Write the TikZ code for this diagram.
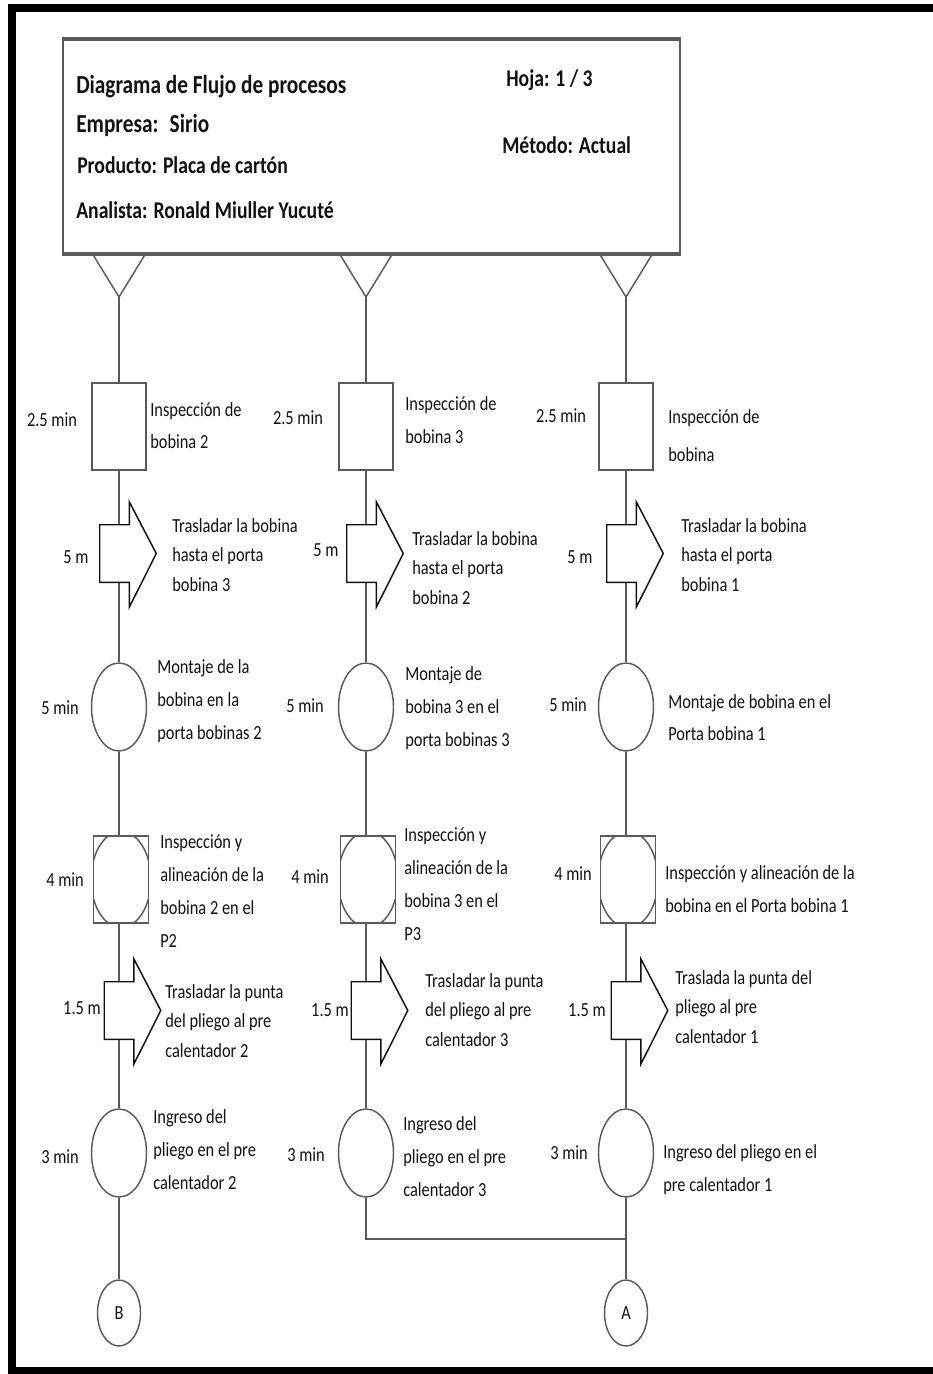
\documentclass[tikz,border=0pt]{standalone}
\usepackage{fontspec}
\setmainfont{Carlito}[FakeStretch=0.82]
\usetikzlibrary{shapes.geometric,calc,backgrounds}

\definecolor{linegray}{HTML}{5A5A5A}
\definecolor{inkdark}{HTML}{111111}

% outline of a transport arrow built on an invisible body node
\newcommand\movearrow[1]{%
  \draw[arrowline] (#1.north east) -- (#1.north west) -- (#1.south west) -- (#1.south east)
    -- ++(0,25) -- ($(#1.east)+(27,0)$) -- ($(#1.north east)+(0,-23)$) -- cycle;}

\begin{document}
\begin{tikzpicture}[x=0.75pt,y=-0.75pt,
  conn/.style={draw=linegray, line width=1.1pt},
  arrowline/.style={draw=inkdark, line width=1.1pt, fill=white, line join=miter},
  inspbox/.style={rectangle, draw=linegray, line width=1.1pt, fill=white,
    minimum width=40.5pt, minimum height=65.25pt, inner sep=0pt},
  opcircle/.style={ellipse, draw=linegray, line width=1.1pt, fill=white,
    minimum width=41.25pt, minimum height=66pt, inner sep=0pt},
  comboop/.style={inspbox, minimum width=41.25pt,
    path picture={\draw[linegray, line width=1.1pt] (path picture bounding box.center)
      ellipse [x radius=22.5pt, y radius=36pt];}},
  movebody/.style={rectangle, minimum width=21.75pt, minimum height=42.75pt, inner sep=0pt},
  linkcircle/.style={ellipse, draw=linegray, line width=1.1pt, fill=white,
    minimum width=32.25pt, minimum height=49.5pt, inner sep=0pt, text=inkdark,
    font=\fontsize{15}{17}\selectfont},
  txt/.style={anchor=west, align=left, inner sep=0pt, text=inkdark,
    font=\fontsize{15}{#1}\selectfont},
  txt/.default=22,
  tlabel/.style={inner sep=0pt, text=inkdark, font=\fontsize{15}{18}\selectfont},
  hdr/.style={anchor=base west, inner sep=0pt, text=inkdark,
    font=\fontsize{19.5}{22}\selectfont\bfseries},
  hdrs/.style={hdr, font=\fontsize{18}{22}\selectfont\bfseries},
]
\useasboundingbox (0,0) rectangle (932,1374);

% page frame
\draw[line width=6pt, line join=miter] (935,8) -- (12,8) -- (12,1371) -- (935,1371);

% heading block
\node[rectangle, draw=linegray, line width=1.2pt, minimum width=462.75pt,
  minimum height=159.75pt, inner sep=0pt] (head) at (371.5,146.5) {};
\draw[linegray, line width=2.6pt] (head.north west) -- (head.north east);
\draw[linegray, line width=2.6pt] (head.south west) -- (head.south east);
\node[hdr] (h1) at (76,93) {Diagrama de Flujo de procesos};
\node[hdr] (h2) at (76,132) {Empresa:~ Sirio};
\node[hdrs] (h3) at (77,173) {Producto: Placa de cartón};
\node[hdrs] (h4) at (76,218) {Analista: Ronald Miuller Yucuté};
\node[hdrs] (h5) at (506,86) {Hoja: 1 / 3};
\node[hdrs] (h6) at (502,153) {Método: Actual};

% storage triangles under the heading
\foreach \cx/\k in {119/1,366/2,626/3}{
  \coordinate (m\k) at (\cx,297);
  \draw[conn] ($(m\k)+(-27,-44)$) -- (m\k) -- ($(m\k)+(27,-44)$);
}

% ---------- column 1 ----------
\node[inspbox] (i1) at (119,426.5) {};
\node[movebody] (ta1) at (114.5,553.5) {};
\node[opcircle] (o1) at (119,707) {};
\node[comboop] (x1) at (121,879.5) {};
\node[movebody] (tb1) at (119,1010.5) {};
\node[opcircle] (g1) at (119,1153) {};
\node[linkcircle] (B) at (119,1313) {B};

% ---------- column 2 ----------
\node[inspbox] (i2) at (366,426.5) {};
\node[movebody] (ta2) at (361.5,553.5) {};
\node[opcircle] (o2) at (366,707) {};
\node[comboop] (x2) at (368,879.5) {};
\node[movebody] (tb2) at (366,1010.5) {};
\node[opcircle] (g2) at (366,1153) {};

% ---------- column 3 ----------
\node[inspbox] (i3) at (626,426.5) {};
\node[movebody] (ta3) at (621.5,553.5) {};
\node[opcircle] (o3) at (626,707) {};
\node[comboop] (x3) at (628,879.5) {};
\node[movebody] (tb3) at (626,1010.5) {};
\node[opcircle] (g3) at (626,1153) {};
\node[linkcircle] (A) at (626,1313) {A};

\coordinate (jn) at (626,1239);

% flow lines behind the symbols
\begin{scope}[on background layer]
  \draw[conn] (m1) -- (i1) -- (o1);
  \draw[conn] (o1) -- (o1 |- x1.north);
  \draw[conn] (x1.south -| g1) -- (g1) -- (B);
  \draw[conn] (m2) -- (i2) -- (o2);
  \draw[conn] (o2) -- (o2 |- x2.north);
  \draw[conn] (x2.south -| g2) -- (g2) |- (jn);
  \draw[conn] (m3) -- (i3) -- (o3);
  \draw[conn] (o3) -- (o3 |- x3.north);
  \draw[conn] (x3.south -| g3) -- (g3) -- (A);
  \draw[conn, line width=1.8pt] (g2 |- jn) -- (jn);
\end{scope}

% transport arrows
\movearrow{ta1}\movearrow{tb1}
\movearrow{ta2}\movearrow{tb2}
\movearrow{ta3}\movearrow{tb3}

% time and distance labels
\node[tlabel] (l11) at (52,420) {2.5 min};
\node[tlabel] (l12) at (76,557) {5 m};
\node[tlabel] (l13) at (60,708) {5 min};
\node[tlabel] (l14) at (65,880) {4 min};
\node[tlabel] (l15) at (82,1008) {1.5 m};
\node[tlabel] (l16) at (60,1157) {3 min};

\node[tlabel] (l21) at (298,418) {2.5 min};
\node[tlabel] (l22) at (326,550) {5 m};
\node[tlabel] (l23) at (305,706) {5 min};
\node[tlabel] (l24) at (310,877) {4 min};
\node[tlabel] (l25) at (330,1010) {1.5 m};
\node[tlabel] (l26) at (306,1155) {3 min};

\node[tlabel] (l31) at (561,416) {2.5 min};
\node[tlabel] (l32) at (580,557) {5 m};
\node[tlabel] (l33) at (568,705) {5 min};
\node[tlabel] (l34) at (573,874) {4 min};
\node[tlabel] (l35) at (587,1010) {1.5 m};
\node[tlabel] (l36) at (569,1153) {3 min};

% step descriptions
\node[txt=24] (d11) at (150,426) {Inspección de\\bobina 2};
\node[txt] (d12) at (172,555) {Trasladar la bobina\\hasta el porta\\bobina 3};
\node[txt=24.75] (d13) at (157,701) {Montaje de la\\bobina en la\\porta bobinas 2};
\node[txt=24.75] (d14) at (160,891) {Inspección y\\alineación de la\\bobina 2 en el\\P2};
\node[txt] (d15) at (165,1021) {Trasladar la punta\\del pliego al pre\\calentador 2};
\node[txt=24.75] (d16) at (153,1150) {Ingreso del\\pliego en el pre\\calentador 2};

\node[txt=24.75] (d21) at (405,420) {Inspección de\\bobina 3};
\node[txt] (d22) at (412,568) {Trasladar la bobina\\hasta el porta\\bobina 2};
\node[txt=24.75] (d23) at (405,708) {Montaje de\\bobina 3 en el\\porta bobinas 3};
\node[txt=24.75] (d24) at (404,884) {Inspección y\\alineación de la\\bobina 3 en el\\P3};
\node[txt] (d25) at (425,1010) {Trasladar la punta\\del pliego al pre\\calentador 3};
\node[txt=24.75] (d26) at (403,1157) {Ingreso del\\pliego en el pre\\calentador 3};

\node[txt=28.5] (d31) at (668,436) {Inspección de\\bobina};
\node[txt] (d32) at (681,555) {Trasladar la bobina\\hasta el porta\\bobina 1};
\node[txt=24] (d33) at (668,718) {Montaje de bobina en el\\Porta bobina 1};
\node[txt=24.75] (d34) at (665,889) {Inspección y alineación de la\\bobina en el Porta bobina 1};
\node[txt] (d35) at (675,1007) {Traslada la punta del\\pliego al pre\\calentador 1};
\node[txt=24.75] (d36) at (663,1170) {Ingreso del pliego en el\\pre calentador 1};

\end{tikzpicture}
\end{document}
